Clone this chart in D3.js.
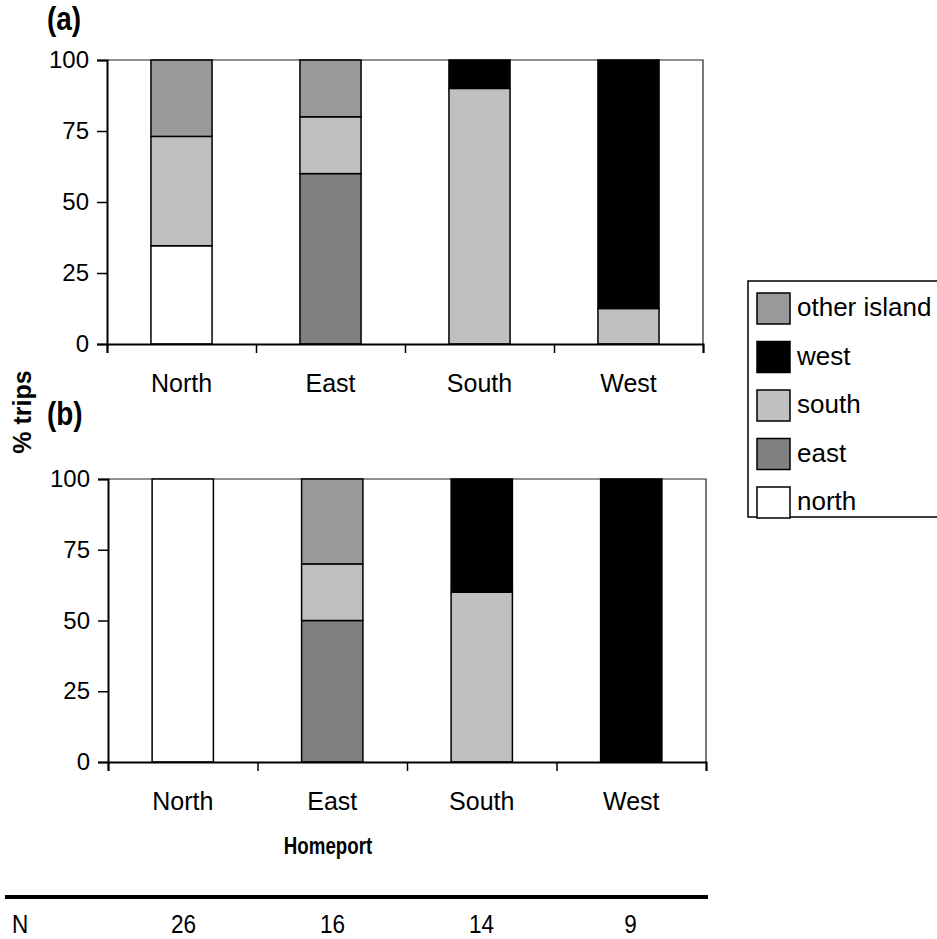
<!DOCTYPE html>
<html>
<head>
<meta charset="utf-8">
<script src="https://cdn.jsdelivr.net/npm/d3@7"></script>
<style>
  body { margin: 0; background: #fff; }
  svg { display: block; }
  svg text { font-family: Arial, "Liberation Sans", sans-serif; }
</style>
</head>
<body>
<svg id="chart" width="937" height="939"></svg>
<script>
// Homeport regions on the x axis
const categories = ["North", "East", "South", "West"];
// Destination groups, stacked bottom to top
const seriesKeys = ["north", "east", "south", "west", "other island"];
const seriesColors = ["#ffffff", "#808080", "#c0c0c0", "#000000", "#999999"];
// Legend order (top to bottom)
const legendKeys = ["other island", "west", "south", "east", "north"];

// Panel (a): % trips by destination
const aNorth = [34.6, 0, 0, 0];
const aEast = [0, 60, 0, 0];
const aSouth = [38.5, 20, 90, 12.5];
const aWest = [0, 0, 10, 87.5];
const aOther = [26.9, 20, 0, 0];

// Panel (b): % trips by destination
const bNorth = [100, 0, 0, 0];
const bEast = [0, 50, 0, 0];
const bSouth = [0, 20, 60, 0];
const bWest = [0, 0, 40, 100];
const bOther = [0, 30, 0, 0];

const yTicks = [0, 25, 50, 75, 100];
const nCounts = [26, 16, 14, 9];

const FONT = "Arial, 'Liberation Sans', sans-serif";
const svg = d3.select("#chart");
const color = d3.scaleOrdinal().domain(seriesKeys).range(seriesColors);

// condensed text: horizontal squeeze applied around the anchor point
function squeezedText(parent, x, y, str, size, sx, opts = {}) {
  return parent.append("text")
    .attr("transform", `translate(${x},${y}) scale(${sx},1)`)
    .attr("text-anchor", opts.anchor || "start")
    .attr("font-size", size)
    .attr("font-weight", opts.weight || "normal")
    .text(str);
}

function rows(cols) {
  return categories.map((c, i) => {
    const r = { cat: c };
    seriesKeys.forEach((k, j) => r[k] = cols[j][i]);
    return r;
  });
}

function drawPanel(cols, box, tag, tagY) {
  const { x0, x1, yTop, yBot } = box;
  const x = d3.scaleBand().domain(categories).range([x0, x1])
    .paddingInner(0.59).paddingOuter(0.295);
  const bounds = d3.scaleLinear().domain([0, categories.length]).range([x0, x1]);
  const y = d3.scaleLinear().domain([0, 100]).range([yBot, yTop]);

  const g = svg.append("g");

  // plot-area frame (top and right)
  g.append("path")
    .attr("d", `M${x0},${yTop}H${x1}V${yBot}`)
    .attr("fill", "none").attr("stroke", "#222").attr("stroke-width", 1.2);

  const stacked = d3.stack().keys(seriesKeys)(rows(cols));
  stacked.forEach(layer => {
    g.append("g").selectAll("rect")
      .data(layer.filter(d => d[1] - d[0] > 0))
      .join("rect")
      .attr("x", d => x(d.data.cat))
      .attr("width", x.bandwidth())
      .attr("y", d => y(d[1]))
      .attr("height", d => y(d[0]) - y(d[1]))
      .attr("fill", color(layer.key))
      .attr("stroke", "#000").attr("stroke-width", 1.5);
  });

  // y axis
  const ya = g.append("g").attr("transform", `translate(${x0},0)`)
    .call(d3.axisLeft(y).tickValues(yTicks).tickSize(10).tickPadding(8).tickFormat(d3.format("d")))
    .attr("font-family", FONT);
  ya.select(".domain").attr("stroke", "#000").attr("stroke-width", 2);
  ya.selectAll(".tick line").attr("stroke", "#000").attr("stroke-width", 1.5);
  ya.selectAll("text").attr("font-size", 24).attr("fill", "#000");

  // x axis: boundary ticks
  const xa = g.append("g").attr("transform", `translate(0,${yBot})`)
    .call(d3.axisBottom(bounds).tickValues(d3.range(categories.length + 1)).tickSize(9).tickFormat(""));
  xa.select(".domain").attr("stroke", "#000").attr("stroke-width", 2);
  xa.selectAll(".tick line").attr("stroke", "#000").attr("stroke-width", 1.5);

  // x axis: category labels
  const xl = g.append("g").attr("transform", `translate(0,${yBot})`)
    .call(d3.axisBottom(x).tickSize(0).tickPadding(30))
    .attr("font-family", FONT);
  xl.select(".domain").remove();
  xl.selectAll("text").attr("font-size", 25).attr("fill", "#000");

  // panel tag
  squeezedText(svg, 47, tagY, tag, 34, 0.82, { weight: "bold" });

  return x;
}

const xA = drawPanel([aNorth, aEast, aSouth, aWest, aOther], { x0: 107, x1: 703, yTop: 60, yBot: 344 }, "(a)", 30);
const xB = drawPanel([bNorth, bEast, bSouth, bWest, bOther], { x0: 108, x1: 706, yTop: 479, yBot: 762 }, "(b)", 425);

// shared y title
svg.append("text")
  .attr("transform", "translate(31,412) rotate(-90)")
  .attr("text-anchor", "middle").attr("font-size", 25).attr("font-weight", "bold")
  .text("% trips");

// x title
squeezedText(svg, 328, 854, "Homeport", 24, 0.78, { weight: "bold", anchor: "middle" });

// sample-size row
svg.append("line").attr("x1", 5).attr("x2", 708).attr("y1", 897).attr("y2", 897)
  .attr("stroke", "#000").attr("stroke-width", 4);
squeezedText(svg, 20, 933, "N", 25, 0.9, { anchor: "middle" });
categories.forEach((c, i) => {
  squeezedText(svg, xA(c) + xA.bandwidth() / 2 + 2, 933, String(nCounts[i]), 25, 0.9, { anchor: "middle" });
});

// legend
const lg = svg.append("g");
lg.append("rect").attr("x", 748).attr("y", 281).attr("width", 220).attr("height", 236)
  .attr("fill", "#fff").attr("stroke", "#000").attr("stroke-width", 1.5);
const li = lg.selectAll("g.item").data(legendKeys).join("g").attr("class", "item")
  .attr("transform", (d, i) => `translate(757,${293 + i * 48.5})`);
li.append("rect").attr("width", 33).attr("height", 31)
  .attr("fill", d => color(d)).attr("stroke", "#000").attr("stroke-width", 1.5);
li.append("text").attr("x", 40).attr("y", 23).attr("font-size", 26).text(d => d);
</script>
</body>
</html>
